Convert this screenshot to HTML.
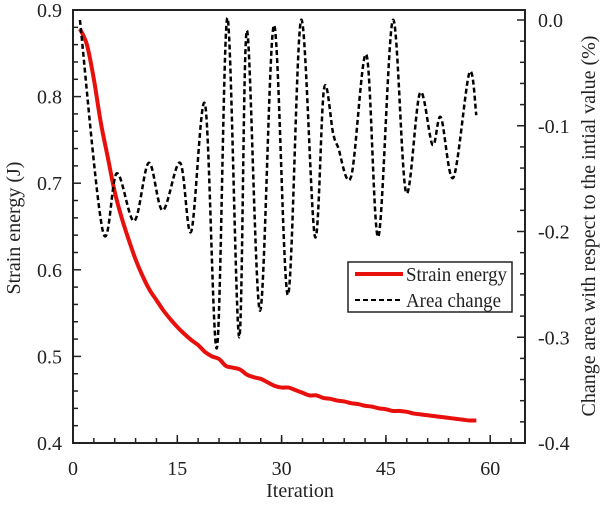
<!DOCTYPE html>
<html><head><meta charset="utf-8"><style>
body{margin:0;background:#fff}
svg text{font-family:"Liberation Serif",serif;font-size:20px;fill:#222}
</style></head><body>
<svg id="chart" width="600" height="500" xmlns="http://www.w3.org/2000/svg"></svg>
<script>
const seIter=[];for(let i=1;i<=58;i++)seIter.push(i);
const strainEnergy=[0.878,0.86,0.82,0.77,0.73,0.69,0.66,0.635,0.612,0.593,0.577,0.565,0.553,0.543,0.534,0.526,0.519,0.513,0.505,0.500,0.497,0.489,0.487,0.485,0.479,0.476,0.474,0.470,0.466,0.464,0.464,0.461,0.458,0.455,0.455,0.452,0.451,0.449,0.448,0.446,0.445,0.443,0.442,0.440,0.439,0.437,0.437,0.436,0.434,0.433,0.432,0.431,0.430,0.429,0.428,0.427,0.426,0.426];
const acIter=[1,4.3,6.3,8.8,10.9,12.9,15.4,17.0,19.0,20.7,22.2,23.9,25.0,26.9,28.9,30.9,32.8,34.8,36.1,37.4,38.1,40.0,42.2,43.9,46.0,47.9,49.9,51.7,52.9,54.7,57.0,58.0];
const areaChange=[0.0,-0.20,-0.145,-0.19,-0.135,-0.18,-0.135,-0.20,-0.08,-0.31,0.002,-0.30,-0.01,-0.275,-0.005,-0.26,0.0,-0.205,-0.065,-0.107,-0.12,-0.148,-0.033,-0.205,0.0,-0.163,-0.069,-0.118,-0.092,-0.149,-0.050,-0.090];
const xTicks=[0,15,30,45,60];
const yLTicks=[0.4,0.5,0.6,0.7,0.8,0.9];
const yRTicks=[0.0,-0.1,-0.2,-0.3,-0.4];

const L=73,R=525,T=10,B=443;
const xs=v=>L+(v-0)/65*(R-L);
const yl=v=>B-(v-0.4)/0.5*(B-T);
const yr=v=>B-(v+0.4)/0.4*(B-20);
const svg=document.getElementById('chart');
const NS='http://www.w3.org/2000/svg';
function mk(tag,attrs,parent){const e=document.createElementNS(NS,tag);for(const k in attrs)e.setAttribute(k,attrs[k]);(parent||svg).appendChild(e);return e;}
function smooth(pts){let d='M'+pts[0][0]+','+pts[0][1];for(let i=0;i<pts.length-1;i++){const p0=pts[i-1]||pts[i],p1=pts[i],p2=pts[i+1],p3=pts[i+2]||p2;const c1=[p1[0]+(p2[0]-p0[0])/6,p1[1]+(p2[1]-p0[1])/6],c2=[p2[0]-(p3[0]-p1[0])/6,p2[1]-(p3[1]-p1[1])/6];d+=`C${c1[0]},${c1[1]} ${c2[0]},${c2[1]} ${p2[0]},${p2[1]}`;}return d;}

const red=mk('path',{d:smooth(seIter.map((x,i)=>[xs(x),yl(strainEnergy[i])])),fill:'none',stroke:'#e8100c','stroke-width':4});


const blk=mk('path',{d:smooth(acIter.map((x,i)=>[xs(x),yr(areaChange[i])])),fill:'none',stroke:'#000','stroke-width':2.5,'stroke-dasharray':'5,3'});



const fr=mk('rect',{x:L,y:T,width:R-L,height:B-T,fill:'none',stroke:'#222','stroke-width':2});



for(let v=0;v<=65;v+=3){mk('line',{x1:xs(v),x2:xs(v),y1:B,y2:B-5,stroke:'#222','stroke-width':1.5});}
for(let v=0;v<=60;v+=15){mk('line',{x1:xs(v),x2:xs(v),y1:B,y2:B-8,stroke:'#222','stroke-width':1.5});}
xTicks.forEach(v=>{const t=mk('text',{x:xs(v),y:B+32,'text-anchor':'middle'});t.textContent=v;

});
for(let i=0;i<=25;i++){const v=0.4+i*0.02;mk('line',{x1:L,x2:L+(i%5==0?8:5),y1:yl(v),y2:yl(v),stroke:'#222','stroke-width':1.5});}
yLTicks.forEach(v=>{const t=mk('text',{x:62,y:yl(v)+7,'text-anchor':'end'});t.textContent=v.toFixed(1);

});
for(let i=0;i<=20;i++){const v=-0.4+i*0.02;mk('line',{x1:R,x2:R-(i%5==0?8:5),y1:yr(v),y2:yr(v),stroke:'#222','stroke-width':1.5});}
yRTicks.forEach(v=>{const t=mk('text',{x:538,y:yr(v)+7,'text-anchor':'start'});t.textContent=v.toFixed(1);

});

const xt=mk('text',{x:300,y:497,'text-anchor':'middle'});xt.textContent='Iteration';


const lt=mk('text',{x:0,y:0,'text-anchor':'middle',transform:'translate(20,228) rotate(-90)'});lt.textContent='Strain energy (J)';


const rt=mk('text',{x:0,y:0,'text-anchor':'middle',transform:'translate(595,226) rotate(-90)'});rt.textContent='Change area with respect to the intial value (%)';



const lg=mk('g',{});


mk('rect',{x:348,y:262,width:164,height:50,fill:'#fff',stroke:'#222','stroke-width':1.5},lg);
mk('line',{x1:355,x2:403,y1:274,y2:274,stroke:'#e8100c','stroke-width':4},lg);
mk('line',{x1:355,x2:403,y1:300,y2:300,stroke:'#000','stroke-width':2,'stroke-dasharray':'5,3'},lg);
const l1=mk('text',{x:406,y:281,textLength:101,lengthAdjust:'spacingAndGlyphs'},lg);l1.textContent='Strain energy';


const l2=mk('text',{x:406,y:307,textLength:95,lengthAdjust:'spacingAndGlyphs'},lg);l2.textContent='Area change';


</script>
</body></html>
